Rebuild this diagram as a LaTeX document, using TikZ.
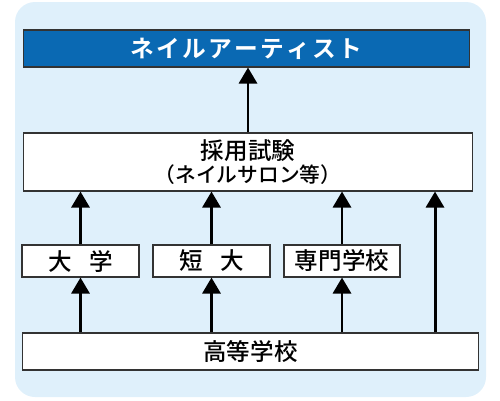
\documentclass[tikz,border=0pt]{standalone}
\usepackage{fontspec}
\setmainfont{Noto Sans CJK JP Medium}[BoldFont={Noto Sans CJK JP Bold}]
\usetikzlibrary{arrows.meta}
\definecolor{bgblue}{HTML}{DFF0FB}
\definecolor{titleblue}{HTML}{0A69B3}
\definecolor{boxline}{HTML}{333333}

\begin{document}
\begin{tikzpicture}[x=0.02cm,y=-0.02cm,
    box/.style={draw=boxline,line width=0.6pt,fill=white,inner sep=0pt,
                font=\fontsize{13.4}{15}\selectfont},
    up/.style={line width=1.7pt,-{Triangle[width=0.36cm,length=0.32cm]}}]
        \useasboundingbox (0,0) rectangle (500,400);
        \fill[bgblue,rounded corners=0.4cm] (15,2) rectangle (486,397);
        \node[box,fill=titleblue,text=white,minimum width=8.94cm,minimum height=0.74cm,
              font=\fontsize{13.5}{16}\selectfont\bfseries](title) at (246.5, 48.5)
              {ネ\kern1.3ptイ\kern1.3ptル\kern1.3ptア\kern1.3ptー\kern1.3ptテ\kern1.3ptィ\kern1.3ptス\kern1.3ptト};
        \node[box,minimum width=9cm,minimum height=1.16cm,align=center](exam) at (248, 162)
              {採用試験\\[-2pt]{\fontsize{11.8}{13}\selectfont （ネイルサロン等）}};
        \node[box,minimum width=2.34cm,minimum height=0.64cm](daigaku) at (80.5, 261) {大\hspace{0.75em}学};
        \node[box,minimum width=2.34cm,minimum height=0.64cm](tandai) at (211.5, 261) {短\hspace{0.75em}大};
        \node[box,minimum width=2.32cm,minimum height=0.64cm](senmon) at (342, 261) {専門学校};
        \node[box,minimum width=9.14cm,minimum height=0.74cm](koko) at (250.5, 351.5) {高等学校};
        \coordinate(direct) at (435, 0);
        \draw[up] (exam.north) -- (exam.north |- title.south);
        \draw[up] (daigaku.north) -- (daigaku.north |- exam.south);
        \draw[up] (tandai.north) -- (tandai.north |- exam.south);
        \draw[up] (senmon.north) -- (senmon.north |- exam.south);
        \draw[up] (daigaku.south |- koko.north) -- (daigaku.south);
        \draw[up] (tandai.south |- koko.north) -- (tandai.south);
        \draw[up] (senmon.south |- koko.north) -- (senmon.south);
        \draw[up] (direct |- koko.north) -- (direct |- exam.south);
      \end{tikzpicture}
\end{document}
